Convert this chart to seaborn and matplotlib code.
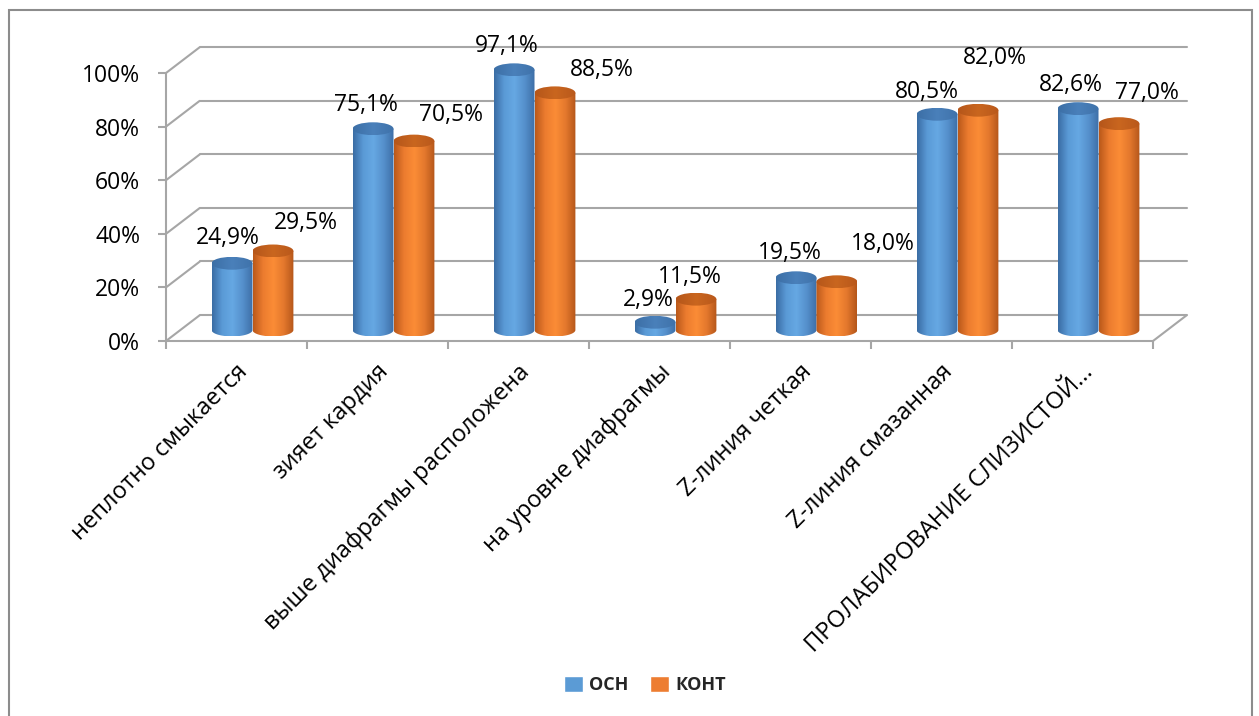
import numpy as np
import pandas as pd
import matplotlib
matplotlib.use("Agg")
import matplotlib.pyplot as plt
import seaborn as sns
from matplotlib.transforms import ScaledTranslation, IdentityTransform
from matplotlib.patches import Ellipse, PathPatch, Rectangle, Patch
from matplotlib.path import Path
from matplotlib.lines import Line2D
from matplotlib.colors import LinearSegmentedColormap

# ---------------- data ----------------
categories = ["неплотно смыкается", "зияет кардия", "выше диафрагмы расположена",
              "на уровне диафрагмы", "Z-линия четкая", "Z-линия смазанная",
              "ПРОЛАБИРОВАНИЕ СЛИЗИСТОЙ..."]
series_names = ["ОСН", "КОНТ"]
osn = [24.9, 75.1, 97.1, 2.9, 19.5, 80.5, 82.6]
kont = [29.5, 70.5, 88.5, 11.5, 18.0, 82.0, 77.0]
y_ticks = [0, 20, 40, 60, 80, 100]

# label placement (pixels, relative to bar top centre)
osn_label_offsets = [(-4, 25), (-7, 24), (-7, 24), (-7, 22), (-6, 25), (-10, 22), (-7, 24)]
kont_label_offsets = [(33, 28), (37, 26), (47, 23), (-6, 22), (46, 38), (17, 52), (28, 31)]

BLUE = "#5B9BD5"
ORANGE = "#ED7D31"
GRID = "#a6a6a6"
blue_stops = ["#3a6ca3", "#5a9ad6", "#66a8e3", "#5590cc", "#3d6ea6"]
orange_stops = ["#b9581a", "#ec7c2f", "#fb8c36", "#e4782d", "#b4561a"]
blue_top = ["#3c6fa6", "#4a80ba", "#3f72aa"]
orange_top = ["#b5561a", "#c9661f", "#b9581b"]

sns.set_theme(style="white")
plt.rcParams["font.family"] = ["Open Sans", "DejaVu Sans"]

df = pd.DataFrame({
    "category": categories * 2,
    "series": [series_names[0]] * len(categories) + [series_names[1]] * len(categories),
    "value": osn + kont,
})

DPI = 100
fig = plt.figure(figsize=(12.59, 7.16), dpi=DPI)
W, H = 1259, 716

# bar plane: x from 182 to 1169 px, value 0 at y=330 px (from top), 2.68 px per %
ppu = 2.68
ylo = -5
ax = fig.add_axes([182 / W, (H - (330 - ylo * ppu)) / H, 987 / W, (100 - ylo) * ppu / H])

sns.barplot(data=df, x="category", y="value", hue="series", palette=[BLUE, ORANGE],
            width=0.58, gap=0, saturation=1, errorbar=None, legend=False, ax=ax)
ax.set_xlim(-0.5, len(categories) - 0.5)
ax.set_ylim(ylo, 100)
ax.set_axis_off()


def off(dx, dy):
    return ScaledTranslation(dx / DPI, dy / DPI, fig.dpi_scale_trans)


front = ax.transData + off(-16, -11)
back = ax.transData + off(18, 15)
xmin, xmax = -0.5, len(categories) - 0.5


def seg(p, q, **kw):
    fig.add_artist(Line2D([p[0], q[0]], [p[1], q[1]], transform=IdentityTransform(),
                          color=GRID, lw=1.5, solid_capstyle="butt", **kw))


# back wall gridlines and left wall diagonals
for t in y_ticks:
    ax.plot([xmin, xmax], [t, t], transform=back, color=GRID, lw=1.5, clip_on=False, zorder=0.5)
    seg(front.transform((xmin, t)), back.transform((xmin, t)), zorder=0.5)
    # y tick marks
    p = front.transform((xmin, t))
    seg(p, (p[0] - 8, p[1]))
    ax.text(xmin, t, f"{t}%", transform=front + off(-26, -3), ha="right", va="center",
            fontsize=16.5, color="black")
# front vertical axis
ax.plot([xmin, xmin], [0, 100], transform=front, color=GRID, lw=1.5, clip_on=False)
# floor front edge and right diagonal
ax.plot([xmin, xmax], [0, 0], transform=front, color=GRID, lw=1.5, clip_on=False, zorder=0.6)
seg(front.transform((xmax, 0)), back.transform((xmax, 0)), zorder=0.6)
# x tick marks at category boundaries
for b in np.arange(len(categories) + 1) - 0.5:
    p = front.transform((b, 0))
    seg(p, (p[0], p[1] - 8))

# x labels
for i, c in enumerate(categories):
    ax.text(i, 0, c, transform=front + off(-1, -19), rotation=45, ha="right", va="top",
            rotation_mode="anchor", fontsize=17, color="black")

# cylinder shading
E = 2.4  # semi-height of ellipse in data units


def shade_bar(patch, stops, top_stops):
    x0, w, h = patch.get_x(), patch.get_width(), patch.get_height()
    xc = x0 + w / 2
    t = np.linspace(np.pi, 2 * np.pi, 60)
    xs = xc + (w / 2) * np.cos(t)
    ys = E * np.sin(t)
    verts = list(zip(xs, ys)) + [(x0 + w, h), (x0, h), (xs[0], ys[0])]
    codes = [Path.MOVETO] + [Path.LINETO] * (len(verts) - 2) + [Path.CLOSEPOLY]
    clip = PathPatch(Path(verts, codes), transform=ax.transData, facecolor="none",
                     edgecolor="none")
    ax.add_patch(clip)
    grad = np.linspace(0, 1, 256)[None, :]
    cmap = LinearSegmentedColormap.from_list("c", stops)
    im = ax.imshow(grad, cmap=cmap, extent=(x0, x0 + w, -E, h), aspect="auto",
                   origin="lower", zorder=2, interpolation="bilinear")
    im.set_clip_path(clip)
    top = Ellipse((xc, h), w, 2 * E, transform=ax.transData, facecolor="none",
                  edgecolor="none")
    ax.add_patch(top)
    cmap2 = LinearSegmentedColormap.from_list("t", top_stops)
    im2 = ax.imshow(grad, cmap=cmap2, extent=(x0, x0 + w, h - E, h + E), aspect="auto",
                    origin="lower", zorder=2.1, interpolation="bilinear")
    im2.set_clip_path(top)
    patch.set_visible(False)


conts = ax.containers
for cont, stops, tstops, offs in [(conts[0], blue_stops, blue_top, osn_label_offsets),
                                  (conts[1], orange_stops, orange_top, kont_label_offsets)]:
    for patch, (dx, dy) in zip(cont.patches, offs):
        shade_bar(patch, stops, tstops)
        h = patch.get_height()
        ax.text(patch.get_x() + patch.get_width() / 2, h,
                f"{h:.1f}%".replace(".", ","),
                transform=ax.transData + off(dx, dy), ha="center", va="center",
                fontsize=16.5, color="black", zorder=5)

ax.set_xlim(-0.5, len(categories) - 0.5)
ax.set_ylim(ylo, 100)

# legend
handles = [Patch(facecolor=BLUE), Patch(facecolor=ORANGE)]
fig.legend(handles, series_names, loc="center", bbox_to_anchor=(645 / W, 1 - 685 / H),
           ncol=2, frameon=False, prop={"family": ["Open Sans", "DejaVu Sans"],
                                         "weight": "bold", "size": 13},
           handlelength=1.05, handleheight=1.05, handletextpad=0.35, columnspacing=1.2)

# outer chart frame
fig.patches.append(Rectangle((9 / W, -0.02), (1252 - 9) / W, 1 - 10 / H + 0.02,
                             transform=fig.transFigure, fill=False,
                             edgecolor="#8c8c8c", lw=1.5))

fig.savefig("out.png", dpi=DPI)
